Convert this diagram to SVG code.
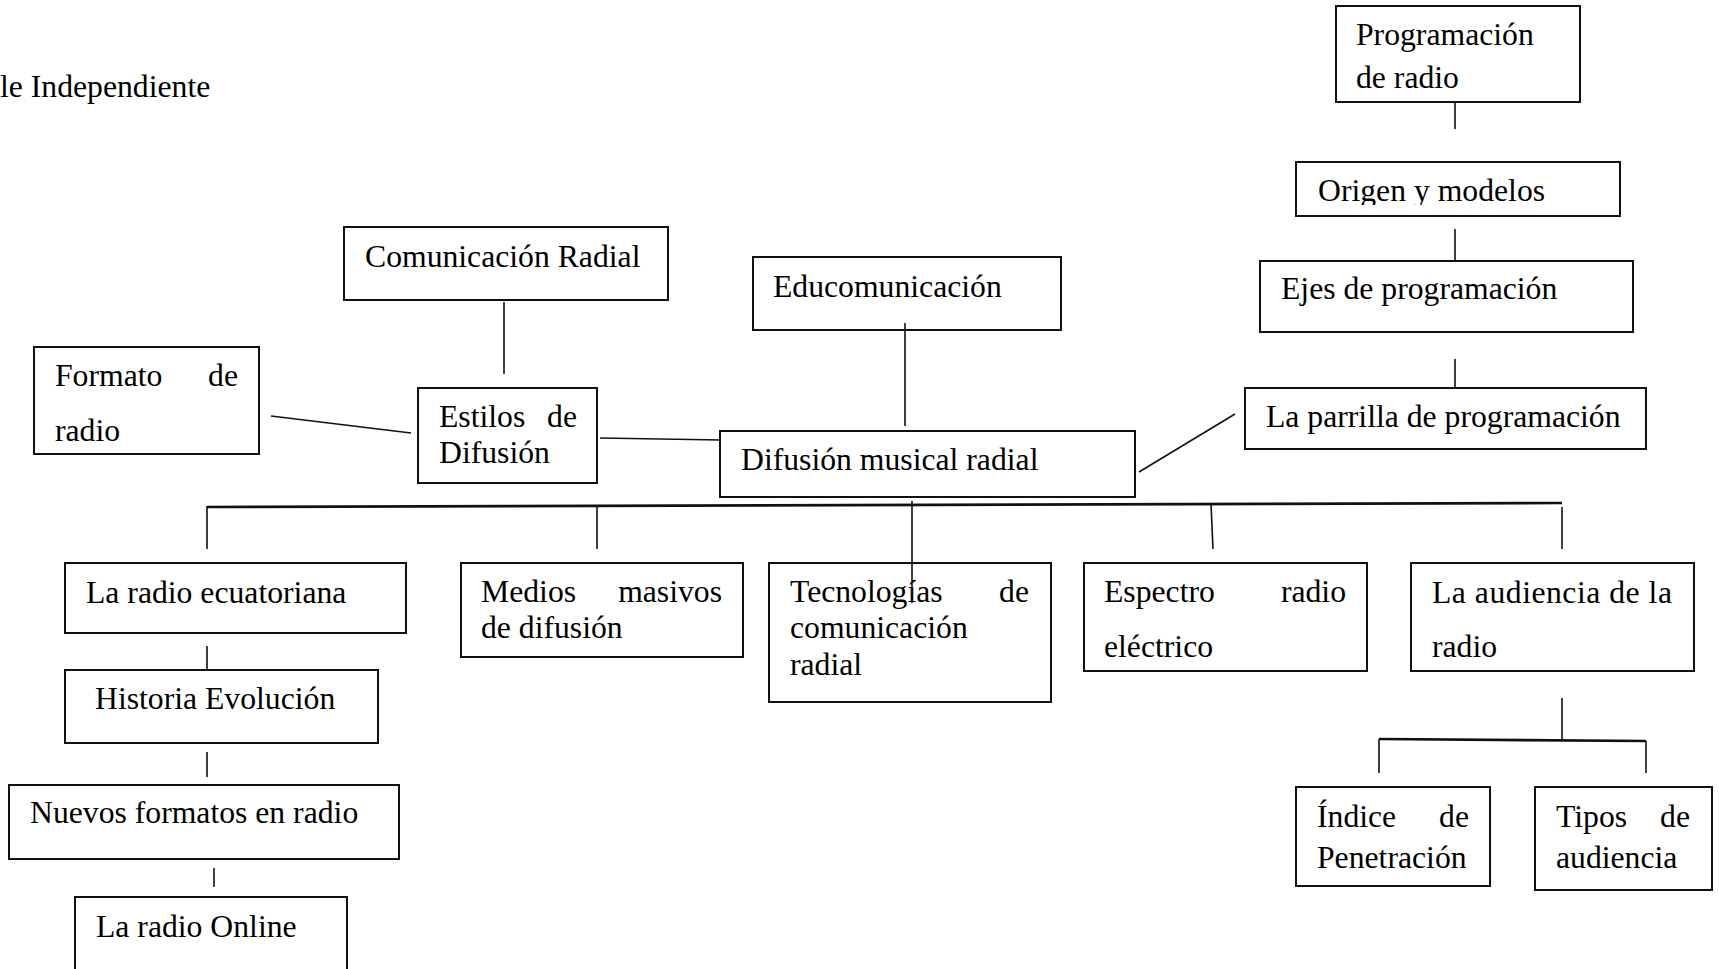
<svg xmlns="http://www.w3.org/2000/svg" width="1719" height="969" viewBox="0 0 1719 969">
<style>
text{font-family:"Liberation Serif","Times New Roman",serif;font-size:31.7px;fill:#000}
.box{fill:#fff;stroke:#111;stroke-width:2}
.ln{stroke:#111;stroke-width:1.6;fill:none}
.bus{stroke:#111;stroke-width:2.6;fill:none}
.e{text-anchor:end}
</style>
<defs>
<clipPath id="clipOrigen"><rect x="1290" y="160" width="340" height="45"/></clipPath>
</defs>
<rect width="1719" height="969" fill="#fff"/>
<text x="0" y="97">le Independiente</text>

<g id="n-programacion"><rect class="box" x="1336" y="6" width="244" height="96"/><text x="1356" y="45">Programación</text><text x="1356" y="88">de radio</text></g>
<g id="n-origen"><rect class="box" x="1296" y="162" width="324" height="54"/><text x="1318" y="201" clip-path="url(#clipOrigen)">Origen y modelos</text></g>
<g id="n-ejes"><rect class="box" x="1260" y="261" width="373" height="71"/><text x="1281" y="299">Ejes de programación</text></g>
<g id="n-parrilla"><rect class="box" x="1245" y="388" width="401" height="61"/><text x="1266" y="427">La parrilla de programación</text></g>
<g id="n-comunicacion"><rect class="box" x="344" y="227" width="324" height="73"/><text x="365" y="267">Comunicación Radial</text></g>
<g id="n-educomunicacion"><rect class="box" x="753" y="257" width="308" height="73"/><text x="773" y="297">Educomunicación</text></g>
<g id="n-formato"><rect class="box" x="34" y="347" width="225" height="107"/><text x="55" y="386">Formato</text><text class="e" x="238" y="386">de</text><text x="55" y="441">radio</text></g>
<g id="n-estilos"><rect class="box" x="418" y="388" width="179" height="95"/><text x="439" y="427">Estilos</text><text class="e" x="577" y="427">de</text><text x="439" y="463">Difusión</text></g>
<g id="n-difusion"><rect class="box" x="720" y="431" width="415" height="66"/><text x="741" y="470">Difusión musical radial</text></g>
<g id="n-ecuatoriana"><rect class="box" x="65" y="563" width="341" height="70"/><text x="86" y="603">La radio ecuatoriana</text></g>
<g id="n-historia"><rect class="box" x="65" y="670" width="313" height="73"/><text x="95" y="709">Historia Evolución</text></g>
<g id="n-nuevos"><rect class="box" x="9" y="785" width="390" height="74"/><text x="30" y="823">Nuevos formatos en radio</text></g>
<g id="n-online"><rect class="box" x="75" y="897" width="272" height="80"/><text x="96" y="937">La radio Online</text></g>
<g id="n-medios"><rect class="box" x="461" y="563" width="282" height="94"/><text x="481" y="602">Medios</text><text class="e" x="722" y="602">masivos</text><text x="481" y="638">de difusión</text></g>
<g id="n-tecnologias"><rect class="box" x="769" y="563" width="282" height="139"/><text x="790" y="602">Tecnologías</text><text class="e" x="1029" y="602">de</text><text x="790" y="638">comunicación</text><text x="790" y="675">radial</text></g>
<g id="n-espectro"><rect class="box" x="1084" y="563" width="283" height="108"/><text x="1104" y="602">Espectro</text><text class="e" x="1346" y="602">radio</text><text x="1104" y="657">eléctrico</text></g>
<g id="n-audiencia"><rect class="box" x="1411" y="563" width="283" height="108"/><text x="1432" y="603" textLength="240" lengthAdjust="spacing">La audiencia de la</text><text x="1432" y="657">radio</text></g>
<g id="n-indice"><rect class="box" x="1296" y="787" width="194" height="99"/><text x="1317" y="827">Índice</text><text class="e" x="1469" y="827">de</text><text x="1317" y="868">Penetración</text></g>
<g id="n-tipos"><rect class="box" x="1535" y="787" width="177" height="103"/><text x="1556" y="827">Tipos</text><text class="e" x="1690" y="827">de</text><text x="1556" y="868">audiencia</text></g>

<g id="connectors">
<line class="ln" x1="1455" y1="103" x2="1455" y2="129"/>
<line class="ln" x1="1455" y1="229" x2="1455" y2="260"/>
<line class="ln" x1="1455" y1="359" x2="1455" y2="388"/>
<line class="ln" x1="504" y1="302" x2="504" y2="374"/>
<line class="ln" x1="905" y1="323" x2="905" y2="426"/>
<line class="ln" x1="271" y1="416" x2="411" y2="433"/>
<line class="ln" x1="600" y1="438" x2="721" y2="440"/>
<line class="ln" x1="1139" y1="472" x2="1235" y2="414"/>
<line class="bus" x1="207" y1="507" x2="1562" y2="503"/>
<line class="ln" x1="207" y1="506" x2="207" y2="549"/>
<line class="ln" x1="597" y1="506" x2="597" y2="549"/>
<line class="ln" x1="912" y1="501" x2="912" y2="603"/>
<line class="ln" x1="1211" y1="504" x2="1213" y2="549"/>
<line class="ln" x1="1562" y1="507" x2="1562" y2="549"/>
<line class="ln" x1="207" y1="646" x2="207" y2="670"/>
<line class="ln" x1="207" y1="752" x2="207" y2="777"/>
<line class="ln" x1="214" y1="868" x2="214" y2="887"/>
<line class="ln" x1="1562" y1="698" x2="1562" y2="740"/>
<line class="bus" x1="1379" y1="739" x2="1646" y2="741"/>
<line class="ln" x1="1379" y1="739" x2="1379" y2="773"/>
<line class="ln" x1="1646" y1="741" x2="1646" y2="773"/>
</g>
</svg>
